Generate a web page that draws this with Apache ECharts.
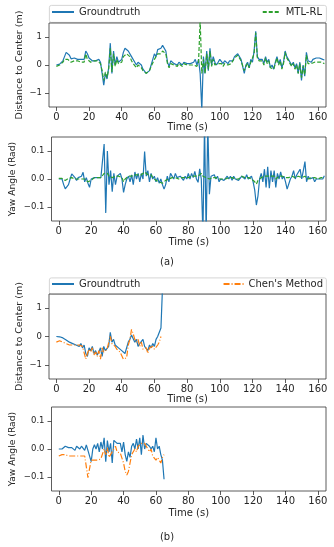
<!DOCTYPE html>
<html>
<head>
<meta charset="utf-8">
<script src="https://cdn.jsdelivr.net/npm/echarts@6.0.0/dist/echarts.min.js"></script>
<style>
  html, body { margin: 0; padding: 0; background: #fff; }
  #chart { width: 334px; height: 547px; }
</style>
</head>
<body>
<div id="chart"></div>
<script>
// sample times (s)
const timeA = [0,1,2,3,4,5,6,7,8,9,10,11,12,13,14,15,16,17,18,19,20,21,22,23,24,25,26,27,28,29,
  30,31,32,33,34,35,36,37,38,39,40,41,42,43,44,45,46,47,48,49,50,51,52,53,54,55,56,57,58,59,
  60,61,62,63,64,65,66,67,68,69,70,71,72,73,74,75,76,77,78,79,80,81,82,83,84,85,86,87,88,89,
  90,91,92,93,94,95,96,97,98,99,100,101,102,103,104,105,106,107,108,109,110,111,112,113,114,
  115,116,117,118,119,120,121,122,123,124,125,126,127,128,129,130,131,132,133,134,135,136,137,
  138,139,140,141,142,143,144,145,146,147,148,149,150,151,152,153,154,155,156,157,158,159,160,
  161,162,163,164];
const timeB = [0,1,2,3,4,5,6,7,8,9,10,11,12,13,14,15,16,17,18,19,20,21,22,23,24,25,26,27,28,29,
  30,31,32,33,34,35,36,37,38,39,40,41,42,43,44,45,46,47,48,49,50,51,52,53,54,55,56,57,58,59,
  60,61,62,63,64,65];

// (a) distance to center (m)
const gtDistA = [0.0,0.02,0.03,0.05,0.15,0.3,0.45,0.45,0.35,0.22,
  0.2,0.25,0.2,0.2,0.15,0.2,0.15,0.2,0.5,0.4,
  0.25,0.2,0.15,0.2,0.15,0.2,0.2,0.1,-0.3,-0.72,
  -0.3,-0.5,-0.1,0.78,-0.3,0.5,0.0,0.3,0.1,0.15,
  0.2,0.45,0.6,0.55,0.5,0.55,0.3,0.35,0.1,0.0,
  0.1,0.05,0.0,-0.15,-0.1,-0.3,-0.35,-0.2,0.0,-0.05,
  0.4,0.3,0.55,0.5,0.6,0.7,0.65,0.5,0.1,-0.05,
  0.15,0.1,0.05,0.1,0.0,0.1,0.05,0.0,0.1,0.15,
  0.05,0.1,0.05,0.0,0.1,0.2,0.0,0.2,-0.3,-1.6,
  0.3,-0.3,0.5,-0.2,0.6,0.0,0.3,0.1,0.0,0.1,
  0.2,0.15,0.05,0.15,0.1,0.05,0.15,0.1,0.15,0.3,
  0.35,0.4,0.3,0.2,0.25,-0.3,0.0,0.1,-0.1,0.2,
  0.1,0.5,1.2,0.3,0.2,0.15,0.2,0.05,0.3,0.1,
  0.2,-0.1,0.0,-0.15,0.1,0.3,0.05,0.2,-0.1,0.1,
  0.5,0.3,0.2,0.1,0.0,0.1,-0.1,0.05,-0.3,0.1,
  -0.55,0.0,-0.4,0.45,0.15,0.2,0.1,0.2,0.2,0.25,
  0.3,0.25,0.25,0.2,0.18];
const mtlDistA = [-0.05,-0.05,0.0,0.05,0.1,0.2,0.2,0.2,0.15,0.1,
  0.15,0.15,0.1,0.15,0.1,0.1,0.15,0.1,0.4,0.2,
  0.15,0.1,0.15,0.15,0.1,0.15,0.1,0.05,-0.2,-0.55,
  -0.25,-0.45,-0.15,0.6,-0.25,0.4,-0.05,0.2,0.05,0.05,
  0.1,0.3,0.35,0.4,0.35,0.3,0.15,0.05,0.0,-0.1,
  0.0,-0.05,-0.1,-0.2,-0.15,-0.3,-0.3,-0.2,-0.05,-0.1,
  0.2,0.15,0.4,0.35,0.4,0.5,0.5,0.4,0.05,-0.1,
  0.05,0.05,0.0,0.05,-0.05,0.05,0.0,-0.05,0.05,0.05,
  0.0,-0.05,0.0,-0.05,0.0,0.05,-0.05,0.1,1.6,-0.3,
  0.2,-0.3,0.4,-0.15,0.5,-0.05,0.2,0.0,-0.05,0.05,
  0.1,0.05,-0.05,0.05,0.05,0.0,0.05,0.05,0.1,0.25,
  0.3,0.35,0.25,0.15,0.15,-0.2,-0.05,0.05,-0.1,0.1,
  0.05,0.4,1.15,0.25,0.15,0.1,0.15,0.0,0.25,0.05,
  0.15,-0.1,-0.05,-0.15,0.05,0.25,0.0,0.15,-0.15,0.05,
  0.45,0.25,0.15,0.05,-0.05,0.05,-0.15,0.0,-0.3,0.05,
  -0.45,-0.05,-0.35,0.35,0.05,0.1,0.05,0.1,0.1,0.1,
  0.1,0.05,0.1,0.05,0.05];

// (a) yaw angle (rad)
const gtYawA = [0.0,0.0,0.0,-0.02,-0.035,-0.035,-0.02,0.0,0.018,0.015,
  0.005,-0.005,0.005,0.0,0.01,0.024,-0.01,0.005,-0.015,-0.03,
  0.0,-0.005,0.005,0.0,0.005,0.0,0.005,0.0,0.125,-0.121,
  0.1,-0.02,0.03,-0.045,0.02,-0.02,0.01,0.005,0.02,0.0,
  -0.048,-0.02,0.0,0.01,-0.01,0.015,-0.02,0.025,0.0,0.02,
  -0.01,0.02,0.0,0.098,0.01,0.03,-0.01,0.02,0.0,0.01,
  -0.01,0.005,-0.015,0.0,-0.02,-0.036,-0.02,0.01,-0.01,0.02,
  0.015,0.0,0.02,0.005,0.0,0.01,0.005,-0.005,0.01,0.0,
  0.02,0.0,0.02,0.005,0.027,0.0,-0.012,0.036,0.0,-0.2,
  0.2,-0.2,0.2,-0.054,0.01,0.005,0.015,0.0,0.01,-0.01,
  0.0,0.005,-0.005,0.0,0.01,0.0,0.01,-0.005,0.01,0.0,
  0.005,-0.005,-0.005,0.01,0.014,0.0,0.015,0.0,0.005,0.01,
  -0.01,-0.04,-0.093,-0.06,0.0,0.02,-0.01,0.035,-0.03,0.044,
  -0.033,0.03,-0.01,0.03,-0.03,0.02,0.0,0.025,0.0,0.01,
  -0.01,-0.036,-0.03,0.0,0.01,0.03,0.0,0.015,0.01,0.035,
  0.0,0.03,0.062,-0.01,0.01,0.0,-0.005,0.005,-0.01,0.0,
  -0.005,0.0,0.005,0.0,0.012];
const mtlYawA = [0.002,0.002,0.002,0.0,-0.005,0.0,0.002,0.005,0.005,0.005,
  0.0,0.005,0.0,0.005,0.0,0.005,0.0,0.0,-0.01,-0.01,
  -0.005,0.0,0.005,0.0,0.005,0.0,0.005,0.01,0.02,0.025,
  0.02,0.01,0.015,0.005,0.01,0.01,0.005,0.01,0.015,0.005,
  -0.01,0.0,0.005,0.01,0.005,0.01,0.01,0.015,0.01,0.015,
  0.01,0.015,0.02,0.025,0.02,0.015,0.01,0.015,0.005,0.0,
  -0.005,-0.005,-0.01,-0.01,-0.015,-0.01,-0.005,0.0,0.0,0.005,
  0.005,0.0,0.005,0.005,0.0,0.005,0.005,0.0,0.005,0.005,
  0.005,0.005,0.01,0.005,0.01,0.005,0.01,0.015,0.02,0.01,
  0.015,0.005,0.01,0.0,0.005,0.005,0.01,0.005,0.005,0.0,
  0.005,0.0,0.005,0.0,0.005,0.005,0.0,0.005,0.005,0.0,
  0.005,0.0,0.005,0.01,0.01,0.005,0.01,0.005,0.005,0.0,
  -0.005,-0.01,-0.018,-0.005,0.0,0.005,0.01,0.01,0.005,0.01,
  0.005,0.01,0.005,0.01,0.0,0.005,0.01,0.005,0.01,0.005,
  0.005,0.0,0.005,0.005,0.01,0.01,0.005,0.01,0.01,0.01,
  0.005,0.01,0.01,0.005,0.0,0.0,0.005,0.0,0.005,0.005,
  0.0,0.005,0.005,0.005,0.005];

// (b) distance to center (m)
const gtDistB = [0.0,0.0,-0.01,-0.02,-0.05,-0.1,-0.12,-0.15,-0.2,-0.22,
  -0.25,-0.28,-0.3,-0.32,-0.35,-0.25,-0.4,-0.3,-0.6,-0.7,
  -0.4,-0.5,-0.35,-0.6,-0.5,-0.65,-0.55,-0.4,-0.7,-0.35,
  -0.5,-0.45,-0.35,0.15,-0.2,-0.1,-0.3,-0.35,-0.4,-0.45,
  -0.5,-0.55,-0.6,-0.55,-0.2,-0.1,0.05,0.0,-0.2,-0.1,
  -0.35,-0.25,-0.3,-0.1,-0.35,-0.4,-0.5,-0.3,-0.4,-0.25,
  -0.35,-0.1,0.0,0.0,0.3,1.8];
const chenDistB = [-0.2,-0.15,-0.15,-0.15,-0.2,-0.2,-0.25,-0.25,-0.3,-0.3,
  -0.3,-0.3,-0.3,-0.35,-0.3,-0.25,-0.35,-0.3,-0.8,-0.6,
  -0.45,-0.55,-0.4,-0.65,-0.55,-0.7,-0.5,-0.8,-0.4,-0.55,
  -0.5,-0.45,-0.4,0.0,-0.25,-0.2,-0.35,-0.45,-0.5,-0.55,
  -0.6,-0.8,-0.82,-0.75,-0.3,-0.1,0.25,0.1,-0.1,-0.2,
  -0.1,-0.35,-0.2,-0.45,-0.5,-0.4,-0.6,-0.4,-0.45,-0.35,
  -0.45,-0.4,-0.3,-0.2,0.0];

// (b) yaw angle (rad)
const gtYawB = [0.0,0.0,0.0,0.005,0.01,0.01,0.005,0.01,0.005,0.01,
  -0.005,0.01,0.005,0.0,0.01,0.015,-0.005,0.015,-0.005,0.0,
  -0.045,0.0,0.015,0.0,0.02,-0.01,0.025,0.0,0.04,-0.045,
  0.03,-0.01,0.02,-0.05,0.031,0.025,0.02,0.015,0.02,-0.01,
  0.025,-0.02,-0.044,-0.01,-0.03,0.01,0.02,0.0,0.035,0.0,
  0.04,-0.02,0.05,0.0,0.02,0.015,0.01,0.0,0.01,-0.01,
  0.04,0.0,0.01,-0.02,-0.04,-0.108];
const chenYawB = [-0.025,-0.025,-0.02,-0.025,-0.02,-0.025,-0.025,-0.025,-0.025,-0.03,
  -0.025,-0.025,-0.025,-0.03,-0.025,-0.03,-0.025,-0.03,-0.102,-0.07,
  -0.04,-0.035,-0.04,-0.04,-0.04,-0.045,-0.035,-0.04,0.0,-0.02,
  0.005,-0.03,-0.02,-0.025,0.0,0.01,-0.01,-0.005,-0.015,-0.02,
  -0.05,-0.08,-0.093,-0.08,-0.05,-0.02,-0.01,0.0,-0.01,0.01,
  0.01,0.02,0.015,0.02,0.01,0.0,-0.01,0.0,-0.025,-0.02,
  -0.04,-0.03,-0.035,-0.05,-0.03,-0.02];

// tick labels
const timeTicks = [0, 20, 40, 60, 80, 100, 120, 140, 160];
const distTicks = [-1, 0, 1];
const yawTicks = [-0.1, 0.0, 0.1];

const TEXT = '#262626';
const FONT = 'DejaVu Sans';
const BLUE = '#1f77b4', GREEN = '#2ca02c', ORANGE = '#ff7f0e';

const pairs = (ts, vs) => vs.map((v, i) => [ts[i], v]);
const minusFmt = (digits) => (v) => {
    const s = Math.abs(v).toFixed(digits);
    return v < 0 ? '\u2212' + s : s;
};

const gridTops = [23, 137, 294, 407];
const gridHeights = [84, 84, 85, 84];
const timeNameGaps = [15, 16, 15, 17];

function xAxisFor(gi) {
    return {
        type: 'value', gridIndex: gi, min: -4.5, max: 165,
        name: 'Time (s)', nameLocation: 'middle', nameGap: timeNameGaps[gi], nameMoveOverlap: false,
        nameTextStyle: { fontSize: 10, color: TEXT, fontFamily: FONT },
        axisLine: { show: false, onZero: false },
        axisTick: { show: true, length: 4, customValues: timeTicks, lineStyle: { color: '#333', width: 0.8 } },
        axisLabel: { customValues: timeTicks, fontSize: 10, color: TEXT, fontFamily: FONT, margin: 5 },
        splitLine: { show: false }
    };
}

function yAxisFor(gi, lim, ticks, digits, name, gap, nameSize) {
    return {
        type: 'value', gridIndex: gi, min: -lim, max: lim,
        name: name, nameLocation: 'middle', nameGap: gap, nameMoveOverlap: false,
        nameTextStyle: { fontSize: nameSize, color: TEXT, fontFamily: FONT },
        axisLine: { show: false, onZero: false },
        axisTick: { show: true, length: 4, customValues: ticks, lineStyle: { color: '#333', width: 0.8 } },
        axisLabel: { customValues: ticks, fontSize: 8.5, color: TEXT, fontFamily: FONT, margin: 7, formatter: minusFmt(digits) },
        splitLine: { show: false }
    };
}

function lineSeries(name, gi, data, color, type) {
    return {
        name: name, type: 'line', xAxisIndex: gi, yAxisIndex: gi,
        data: data, showSymbol: false, symbol: 'none', clip: true,
        animation: false,
        lineStyle: { color: color, width: 1.2, type: type || 'solid' },
        itemStyle: { color: color }
    };
}

const legendText = { fontSize: 10, color: TEXT, fontFamily: FONT };
// hide the legend's marker dot, keep only the line sample
const legendBase = { padding: 0, itemHeight: 10, textStyle: legendText, selectedMode: false, itemStyle: { opacity: 0 } };

const myChart = echarts.init(document.getElementById('chart'));

const option = {
    backgroundColor: '#fff',
    animation: false,
    grid: gridTops.map((t, i) => ({
        left: 49, right: 8, top: t, height: gridHeights[i],
        show: true, borderColor: '#333', borderWidth: 0.8, backgroundColor: 'transparent'
    })),
    xAxis: [0, 1, 2, 3].map(xAxisFor),
    yAxis: [
        yAxisFor(0, 1.5, distTicks, 0, 'Distance to Center (m)', 24, 9.5),
        yAxisFor(1, 0.15, yawTicks, 1, 'Yaw Angle (Rad)', 34.5, 9.2),
        yAxisFor(2, 1.5, distTicks, 0, 'Distance to Center (m)', 24, 9.5),
        yAxisFor(3, 0.15, yawTicks, 1, 'Yaw Angle (Rad)', 34.5, 9.2)
    ],
    legend: [
        Object.assign({ data: ['Groundtruth'], left: 51, top: 7, itemWidth: 22 }, legendBase),
        Object.assign({ data: ['MTL-RL'], right: 12, top: 7, itemWidth: 18 }, legendBase),
        Object.assign({ data: ['Groundtruth'], left: 51, top: 279, itemWidth: 22 }, legendBase),
        Object.assign({ data: ["Chen's Method"], right: 11, top: 279, itemWidth: 20 }, legendBase)
    ],
    graphic: [
        { type: 'rect', left: 49, top: 5, z: -1, shape: { width: 277, height: 17, r: 2 }, style: { fill: '#fff', stroke: '#cccccc', lineWidth: 0.8 } },
        { type: 'rect', left: 49, top: 277.5, z: -1, shape: { width: 277, height: 16.5, r: 2 }, style: { fill: '#fff', stroke: '#cccccc', lineWidth: 0.8 } },
        { type: 'text', left: 'center', top: 257, style: { text: '(a)', fontSize: 10, fill: TEXT, fontFamily: FONT } },
        { type: 'text', left: 'center', top: 532, style: { text: '(b)', fontSize: 10, fill: TEXT, fontFamily: FONT } }
    ],
    series: [
        lineSeries('Groundtruth', 0, pairs(timeA, gtDistA), BLUE),
        lineSeries('MTL-RL', 0, pairs(timeA, mtlDistA), GREEN, [4, 2]),
        lineSeries('Groundtruth', 1, pairs(timeA, gtYawA), BLUE),
        lineSeries('MTL-RL', 1, pairs(timeA, mtlYawA), GREEN, [4, 2]),
        lineSeries('Groundtruth', 2, pairs(timeB, gtDistB), BLUE),
        lineSeries("Chen's Method", 2, pairs(timeB, chenDistB), ORANGE, [6, 2, 1, 2]),
        lineSeries('Groundtruth', 3, pairs(timeB, gtYawB), BLUE),
        lineSeries("Chen's Method", 3, pairs(timeB, chenYawB), ORANGE, [6, 2, 1, 2])
    ]
};

myChart.setOption(option);
</script>
</body>
</html>
